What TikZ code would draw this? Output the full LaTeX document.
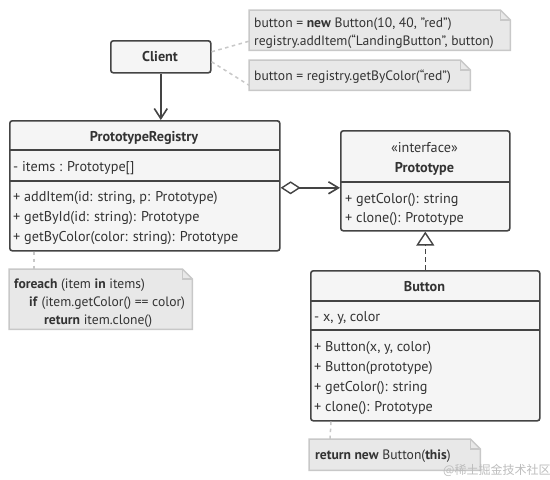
\documentclass[tikz,border=0pt]{standalone}
\usepackage{fontspec}
\setmainfont{PT Sans}
\newfontfamily\cjkfont{Noto Sans CJK SC}
\usetikzlibrary{arrows.meta}
\definecolor{boxdraw}{HTML}{444444}
\definecolor{boxfill}{HTML}{F5F5F5}
\definecolor{notefill}{HTML}{E8E8E8}
\definecolor{notedraw}{HTML}{C8C8C8}
\definecolor{txtcol}{HTML}{333333}
\definecolor{wmcol}{HTML}{BDBDBD}
\tikzset{
  umlbox/.style={draw=boxdraw, fill=boxfill, line width=1.6pt, rounded corners=2.5pt, inner sep=0pt, anchor=north west},
  sepline/.style={draw=boxdraw, line width=1.6pt},
  txt/.style={inner sep=0pt, anchor=base west, text=txtcol, font=\fontsize{14.2}{16}\selectfont},
  ttl/.style={inner sep=0pt, anchor=base, text=txtcol, font=\fontsize{14.2}{16}\selectfont\bfseries},
  ntxt/.style={inner sep=0pt, anchor=base west, text=txtcol, font=\fontsize{13.6}{15}\selectfont},
  notebox/.style={inner sep=0pt, anchor=north west, draw=none},
  noteline/.style={draw=notedraw, fill=notefill, line width=1.5pt},
  foldline/.style={draw=notedraw, line width=1.2pt},
  dotline/.style={draw=notedraw, line width=1.5pt, dash pattern=on 3.5pt off 3.5pt},
  assoc/.style={draw=boxdraw, line width=1.6pt, -{Straight Barb[length=10pt,width=13pt,line width=1.6pt]}},
  aggr/.style={draw=boxdraw, line width=1.6pt, {Diamond[length=20pt,width=13pt,fill=white,line width=1.4pt]}-{Straight Barb[length=10pt,width=12pt,line width=1.6pt]}},
  realiz/.style={draw=boxdraw, line width=1.6pt, dash pattern=on 5pt off 3pt, -{Triangle[length=14pt,width=18pt,fill=white,line width=1.4pt,open]}},
}
\newcommand{\notefold}[1]{%
  \draw[noteline] (#1.north west) -- ([xshift=-10pt]#1.north east) -- ([yshift=-10pt]#1.north east) -- (#1.south east) -- (#1.south west) -- cycle;
  \draw[foldline] ([xshift=-10pt]#1.north east) -- ([xshift=-10pt,yshift=-10pt]#1.north east) -- ([yshift=-10pt]#1.north east);
}
\begin{document}
\begin{tikzpicture}[x=1pt,y=-1pt]
\useasboundingbox[fill=white] (0,0) rectangle (550,480);

% ---------- notes ----------
\node[notebox, minimum width=261pt, minimum height=40pt] (note1) at (249,10) {};
\notefold{note1}
\node[ntxt] (n1a) at (254,27) {button = \textbf{new} Button(10, 40, "red")};
\node[ntxt] (n1b) at (254,45) {registry.addItem(“LandingButton”, button)};

\node[notebox, minimum width=221pt, minimum height=30pt] (note2) at (249,60) {};
\notefold{note2}
\node[ntxt] (n2a) at (254,80.5) {button = registry.getByColor(“red”)};

\node[notebox, minimum width=183pt, minimum height=60pt] (note3) at (9,269) {};
\notefold{note3}
\node[ntxt] (n3a) at (14,288) {\textbf{foreach} (item \textbf{in} items)};
\node[ntxt] (n3b) at (29,306) {\textbf{if} (item.getColor() == color)};
\node[ntxt] (n3c) at (44,324.5) {\textbf{return} item.clone()};

\node[notebox, minimum width=171pt, minimum height=31pt] (note4) at (309,439) {};
\notefold{note4}
\node[ntxt] (n4a) at (315,459.5) {\textbf{return new} Button(\textbf{this})};

% ---------- Client ----------
\node[umlbox, minimum width=100pt, minimum height=32pt] (client) at (110,40) {};
\node[ttl] (clientT) at (160,61) {Client};

% ---------- PrototypeRegistry ----------
\node[umlbox, minimum width=270pt, minimum height=130pt] (reg) at (9,120) {};
\draw[sepline] (9,150) -- (279,150);
\draw[sepline] (9,181) -- (279,181);
\node[ttl] (regT) at (144,141.5) {PrototypeRegistry};
\node[txt] (regF) at (13,171.5) {- items : Prototype[]};
\node[txt] (regM1) at (13,201.5) {+ addItem(id: string, p: Prototype)};
\node[txt] (regM2) at (13,221) {+ getById(id: string): Prototype};
\node[txt] (regM3) at (13,241) {+ getByColor(color: string): Prototype};

% ---------- Prototype ----------
\node[umlbox, minimum width=169pt, minimum height=100pt] (proto) at (340,130) {};
\draw[sepline] (340,182) -- (509,182);
\node[inner sep=0pt, anchor=base, text=txtcol, font=\fontsize{14.2}{16}\selectfont] (protoS) at (424.5,152) {«interface»};
\node[ttl] (protoT) at (424.5,172) {Prototype};
\node[txt] (protoM1) at (345,203) {+ getColor(): string};
\node[txt] (protoM2) at (345,222.5) {+ clone(): Prototype};

% ---------- Button ----------
\node[umlbox, minimum width=229pt, minimum height=150pt] (btn) at (310,270) {};
\draw[sepline] (310,301) -- (539,301);
\draw[sepline] (310,330) -- (539,330);
\node[ttl] (btnT) at (424.5,291) {Button};
\node[txt] (btnF) at (314,321) {- x, y, color};
\node[txt] (btnM1) at (314,351.5) {+ Button(x, y, color)};
\node[txt] (btnM2) at (314,371.5) {+ Button(prototype)};
\node[txt] (btnM3) at (314,391.5) {+ getColor(): string};
\node[txt] (btnM4) at (314,411) {+ clone(): Prototype};

% ---------- connectors ----------
\draw[assoc] (client.south) -- (client.south |- reg.north);
\coordinate (aggpt) at ([yshift=-7pt]proto.west);
\draw[aggr] (reg.east |- aggpt) -- (aggpt);
\draw[realiz] (btn.north) -- (proto.south);

\draw[dotline] ([yshift=5pt]client.east) -- ([yshift=-11pt]note1.west);
\draw[dotline] ([yshift=-5pt]client.east) -- ([yshift=-10pt]note2.west);
\draw[dotline] ([xshift=25pt]reg.south west) -- ([xshift=25pt]note3.north west);
\draw[dotline] ([xshift=21pt]btn.south west) -- ([xshift=21pt]note4.north west);

% ---------- watermark ----------
\node[inner sep=0pt, anchor=base west, text=wmcol, font=\cjkfont\fontsize{12}{14}\selectfont] (wm) at (443,474.5) {@稀土掘金技术社区};
\end{tikzpicture}
\end{document}
